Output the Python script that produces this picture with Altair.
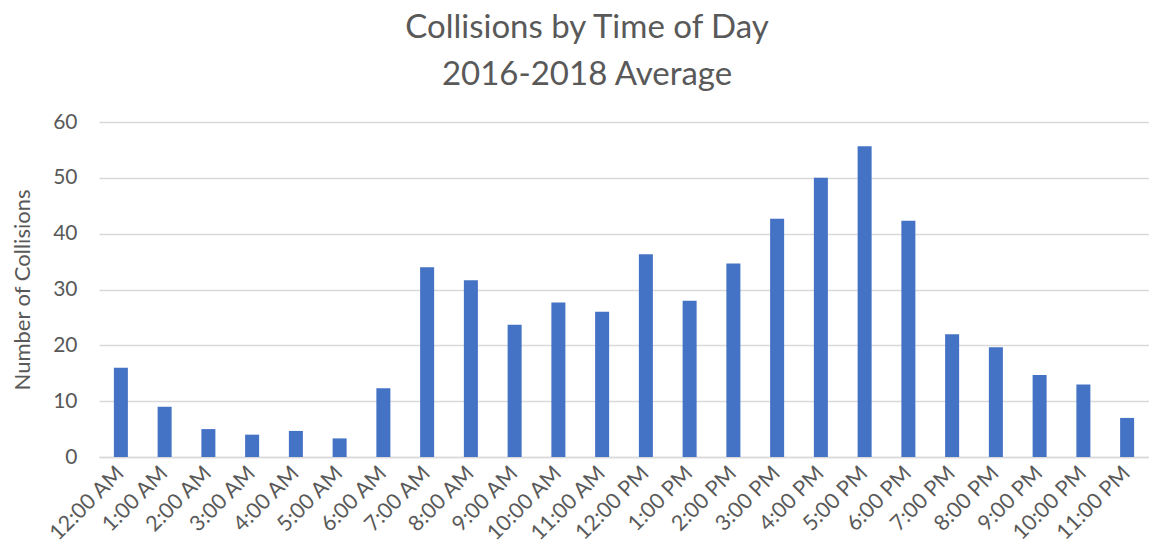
import altair as alt
import pandas as pd

hours = ["12:00 AM", "1:00 AM", "2:00 AM", "3:00 AM", "4:00 AM", "5:00 AM",
         "6:00 AM", "7:00 AM", "8:00 AM", "9:00 AM", "10:00 AM", "11:00 AM",
         "12:00 PM", "1:00 PM", "2:00 PM", "3:00 PM", "4:00 PM", "5:00 PM",
         "6:00 PM", "7:00 PM", "8:00 PM", "9:00 PM", "10:00 PM", "11:00 PM"]
collisions = [16.0, 9.0, 5.0, 4.0, 4.67, 3.33, 12.33, 34.0, 31.67, 23.67, 27.67, 26.0,
              36.33, 28.0, 34.67, 42.67, 50.0, 55.67, 42.33, 22.0, 19.67, 14.67, 13.0, 7.0]
y_ticks = [0, 10, 20, 30, 40, 50, 60]

df = pd.DataFrame({"hour": hours, "count": collisions})

FONT = "Lato"
GRAY = "#595959"

chart = alt.Chart(df).mark_bar(color="#4472C4").encode(
    x=alt.X("hour:N", sort=hours, title=None,
            scale=alt.Scale(paddingInner=0.68, paddingOuter=0.34),
            axis=alt.Axis(labelAngle=-45, labelAlign="right", labelBaseline="middle",
                          labelFont=FONT, labelFontSize=21.5, labelColor=GRAY,
                          labelPadding=13, ticks=False, domainColor="#d9d9d9",
                          domainWidth=1.5, labelOverlap=False)),
    y=alt.Y("count:Q", title="Number of Collisions",
            scale=alt.Scale(domain=[0, 60]),
            axis=alt.Axis(values=y_ticks, grid=True, gridColor="#d9d9d9", gridWidth=1.5,
                          domain=False, ticks=False, labelPadding=22,
                          labelFont=FONT, labelFontSize=21, labelColor=GRAY,
                          titleFont=FONT, titleFontSize=22, titleColor=GRAY,
                          titleFontWeight="normal", titlePadding=18)),
).properties(
    width=1050,
    height=335,
    autosize=alt.AutoSizeParams(type="none"),
    padding={"left": 91, "top": 114, "right": 0, "bottom": 89},
    title=alt.TitleParams(
        text=["Collisions by Time of Day", "2016-2018 Average"],
        font=FONT, fontSize=33, fontWeight="normal", color=GRAY,
        lineHeight=47, anchor="middle", dx=-37, offset=19,
    ),
).configure_view(stroke=None)

chart.save("out.html", embed_options={"renderer": "svg", "actions": False})
